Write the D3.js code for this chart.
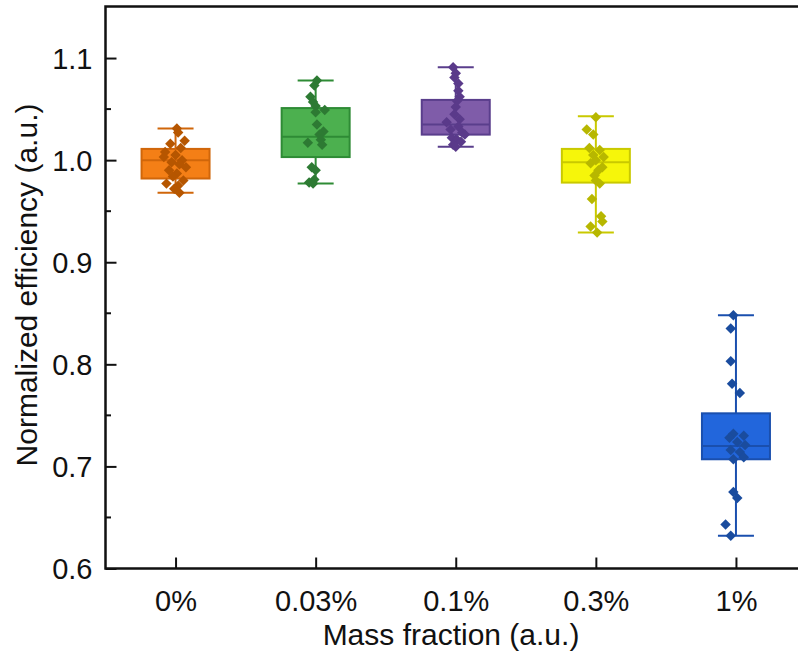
<!DOCTYPE html>
<html><head><meta charset="utf-8">
<script src="https://cdn.jsdelivr.net/npm/d3@7"></script>
<style>body{margin:0;background:#fff}svg{display:block}text{font-family:"Liberation Sans",Arial,sans-serif;fill:#111}</style>
</head><body><svg id="c" width="798" height="664"></svg>
<script>
const categories = ["0%", "0.03%", "0.1%", "0.3%", "1%"];
const yTicks = [0.6, 0.7, 0.8, 0.9, 1.0, 1.1];
const yTickLabels = ["0.6", "0.7", "0.8", "0.9", "1.0", "1.1"];
// box stats: whisker low, Q1, median, Q3, whisker high
const whiskerLow  = [0.968, 0.977, 1.013, 0.929, 0.632];
const q1          = [0.982, 1.003, 1.025, 0.978, 0.707];
const medians     = [1.000, 1.023, 1.035, 0.998, 0.720];
const q3          = [1.011, 1.051, 1.059, 1.011, 0.752];
const whiskerHigh = [1.031, 1.078, 1.091, 1.043, 0.848];
// individual points
const pts0   = [1.031, 1.027, 1.019, 1.016, 1.012, 1.008, 1.005, 1.003, 1.000, 0.998, 0.996, 0.993, 0.990, 0.987, 0.984, 0.980, 0.977, 0.975, 0.972, 0.968];
const pts003 = [1.078, 1.073, 1.062, 1.057, 1.053, 1.047, 1.049, 1.035, 1.028, 1.025, 1.020, 1.017, 1.015, 0.993, 0.990, 0.981, 0.978, 0.977];
const pts01  = [1.091, 1.085, 1.081, 1.075, 1.068, 1.062, 1.058, 1.052, 1.045, 1.040, 1.037, 1.033, 1.030, 1.027, 1.025, 1.022, 1.020, 1.018, 1.015, 1.013];
const pts03  = [1.042, 1.030, 1.025, 1.012, 1.010, 1.005, 1.003, 1.000, 0.997, 0.993, 0.990, 0.985, 0.980, 0.977, 0.962, 0.945, 0.940, 0.935, 0.929];
const pts1   = [0.848, 0.835, 0.803, 0.781, 0.772, 0.732, 0.730, 0.728, 0.724, 0.721, 0.716, 0.714, 0.709, 0.707, 0.675, 0.669, 0.643, 0.632];
const points = [pts0, pts003, pts01, pts03, pts1];
// horizontal jitter of points (fraction of half jitter width)
const jit0   = [0.1, 0.2, 0.7, -0.4, 0.4, -0.8, 0.0, -0.9, 0.5, -0.3, 0.3, 0.8, -0.5, 0.1, -0.2, 0.6, -0.7, 0.2, -0.1, 0.3];
const jit003 = [0.1, -0.1, -0.4, -0.2, 0.0, 0.0, 0.7, 0.1, 0.6, 0.3, 0.4, -0.6, 0.5, -0.3, 0.0, -0.1, -0.5, -0.2];
const jit01  = [-0.2, 0.0, -0.1, 0.2, 0.2, 0.3, 0.1, 0.0, -0.1, 0.3, -0.7, 0.2, -0.4, 0.5, 0.7, -0.3, 0.1, 0.4, -0.2, 0.0];
const jit03  = [0.0, -0.7, -0.2, -0.5, 0.3, -0.2, 0.6, 0.0, -0.4, 0.5, 0.2, -0.1, 0.0, 0.3, -0.3, 0.4, 0.5, -0.4, 0.1];
const jit1   = [-0.2, -0.4, -0.4, -0.3, 0.3, -0.2, 0.6, -0.5, 0.1, 0.7, -0.4, 0.3, 0.6, -0.2, -0.2, 0.1, -0.8, -0.4];
const jitters = [jit0, jit003, jit01, jit03, jit1];
const fills   = ["#F47F16", "#4CB04F", "#7F5CA9", "#F6F60A", "#2266DC"];
const strokes = ["#D0660A", "#2E8B35", "#5A3E8C", "#C9C900", "#1A4FAE"];
const ptColors= ["#B65600", "#2D7A33", "#5A3A8A", "#B7B700", "#1A4C9E"];

const svg = d3.select("#c");
const L = 105.5, T = 6.5, B = 568.5, R = 806;
const x = d3.scaleLinear().domain([0.5, 5.5]).range([L, R]);
const y = d3.scaleLinear().domain([0.6, 1.15]).range([B, T + 0.5]);
const boxW = 68, capW = 36, jw = 13;

// boxes
categories.forEach((c, i) => {
  const cx = x(i + 1);
  const g = svg.append("g");
  g.append("line").attr("x1", cx).attr("x2", cx).attr("y1", y(whiskerLow[i])).attr("y2", y(whiskerHigh[i]))
    .attr("stroke", strokes[i]).attr("stroke-width", 2);
  [whiskerLow[i], whiskerHigh[i]].forEach(v => {
    g.append("line").attr("x1", cx - capW/2).attr("x2", cx + capW/2).attr("y1", y(v)).attr("y2", y(v))
      .attr("stroke", strokes[i]).attr("stroke-width", 2);
  });
  g.append("rect").attr("x", cx - boxW/2).attr("width", boxW).attr("y", y(q3[i])).attr("height", y(q1[i]) - y(q3[i]))
    .attr("fill", fills[i]).attr("stroke", strokes[i]).attr("stroke-width", 2);
  g.append("line").attr("x1", cx - boxW/2).attr("x2", cx + boxW/2).attr("y1", y(medians[i])).attr("y2", y(medians[i]))
    .attr("stroke", strokes[i]).attr("stroke-width", 2);
  const sym = d3.symbol().type(d3.symbolDiamond2).size(70);
  g.selectAll("path.pt").data(points[i]).enter().append("path").attr("class", "pt")
    .attr("d", sym)
    .attr("transform", (d, j) => `translate(${cx + jitters[i][j] * jw},${y(d)})`)
    .attr("fill", ptColors[i]);
});

// axes
const yAxis = d3.axisLeft(y).tickValues(yTicks).tickSizeInner(-11).tickSizeOuter(0).tickFormat((d, k) => yTickLabels[k]);
const ya = svg.append("g").attr("transform", `translate(${L},0)`).call(yAxis);
ya.select(".domain").remove();
ya.selectAll("text").attr("x", -13).style("font-size", "29px").attr("dy", "0.36em");
ya.selectAll("line").attr("stroke", "#111").attr("stroke-width", 2);
const minor = d3.range(0.65, 1.15, 0.1);
svg.append("g").selectAll("line").data(minor).enter().append("line")
  .attr("x1", L).attr("x2", L + 5.5).attr("y1", d => y(d)).attr("y2", d => y(d)).attr("stroke", "#111").attr("stroke-width", 2);

const xAxis = d3.axisBottom(x).tickValues([1,2,3,4,5]).tickSizeInner(-11).tickSizeOuter(0).tickFormat((d) => categories[d-1]);
const xa = svg.append("g").attr("transform", `translate(0,${B})`).call(xAxis);
xa.select(".domain").remove();
xa.selectAll("text").attr("y", 42).attr("dy", 0).style("font-size", "29px");
xa.selectAll("line").attr("stroke", "#111").attr("stroke-width", 2);

// frame
svg.append("path").attr("d", `M${R},${T}H${L}V${B}H${R}`).attr("fill", "none").attr("stroke", "#111").attr("stroke-width", 2.5);

svg.append("text").attr("x", 451).attr("y", 645).attr("text-anchor", "middle").style("font-size", "30px").text("Mass fraction (a.u.)");
svg.append("text").attr("transform", "translate(37,285) rotate(-90)").attr("text-anchor", "middle").style("font-size", "30px").text("Normalized efficiency (a.u.)");
</script></body></html>
